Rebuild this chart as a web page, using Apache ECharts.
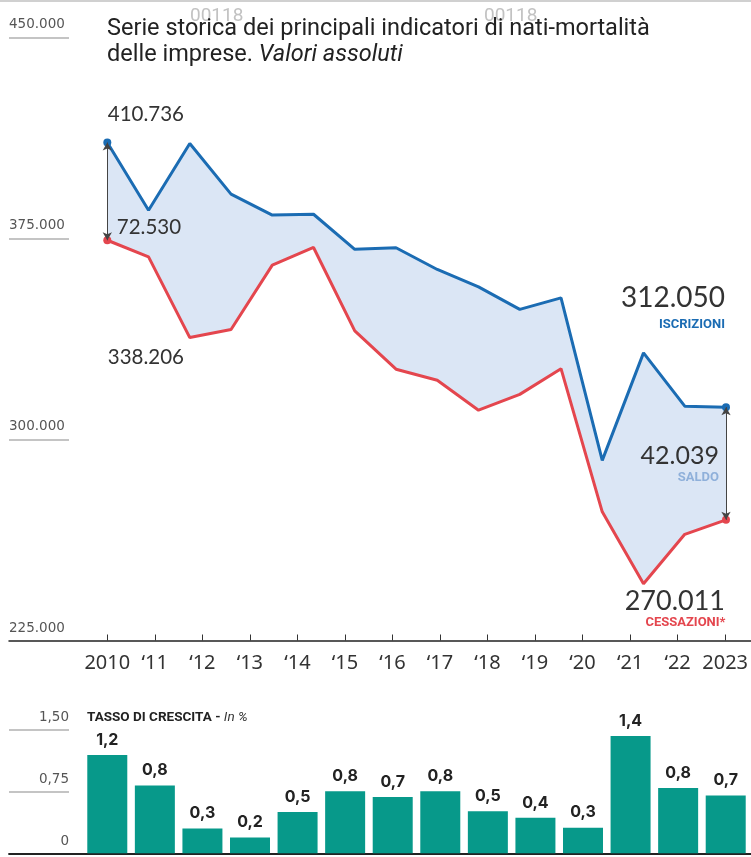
<!DOCTYPE html>
<html>
<head>
<meta charset="utf-8">
<script src="https://cdn.jsdelivr.net/npm/echarts@6/dist/echarts.min.js"></script>
<style>
html,body{margin:0;padding:0;background:#fff;}
#chart{width:751px;height:857px;}
</style>
</head>
<body>
<div id="chart"></div>
<script>
// ---------- data ----------
const years = ['2010','\u201811','\u201812','\u201813','\u201814','\u201815','\u201816','\u201817','\u201818','\u201819','\u201820','\u201821','\u201822','2023'];
const lineSteps = ['1','2','3','4','5','6','7','8','9','10','11','12','13','14','15','16'];
const iscrizioni = [410736, 385500, 410400, 391500, 383700, 384000, 370900, 371500, 363400, 356900, 348500, 352800, 292200, 332300, 312400, 312050];
const cessazioni = [374300, 368100, 338000, 341000, 365000, 371600, 340500, 326200, 322100, 310900, 316800, 326400, 273000, 246200, 264600, 270011];
const yTicks = [225000, 300000, 375000, 450000];
const startLabels = [410736, 72530, 338206];   // iscrizioni, saldo, cessazioni (2010)
const endLabels = [312050, 42039, 270011];     // iscrizioni, saldo, cessazioni (2023)
const tassoCrescita = [1.19, 0.82, 0.30, 0.19, 0.50, 0.75, 0.68, 0.75, 0.51, 0.43, 0.31, 1.42, 0.79, 0.70];
const tassoLabels = ['1,2','0,8','0,3','0,2','0,5','0,8','0,7','0,8','0,5','0,4','0,3','1,4','0,8','0,7'];
const barTicks = [0, 0.75, 1.5];

// ---------- helpers ----------
const fmt = v => String(Math.round(v)).replace(/\B(?=(\d{3})+(?!\d))/g, '.');
const fmtDec = v => v === 0 ? '0' : v.toFixed(2).replace('.', ',');
const gap = iscrizioni.map((v, i) => v - cessazioni[i]);
const last = iscrizioni.length - 1;

const BLUE = '#1b6cb3', RED = '#e4464e', FILL = '#dbe6f5', TEAL = '#07998a';
const TOP = 37.3, BOT1 = 216.5, TOP2 = 729.3, BOT2 = 3.7;

const chart = echarts.init(document.getElementById('chart'), null, {renderer: 'canvas'});

const hiddenVal = (g, extra) => Object.assign({type: 'value', gridIndex: g, show: false}, extra || {});

const option = {
  backgroundColor: '#fff',
  animation: false,
  title: [
    {left: 190, top: 7, padding: 0, text: '00118', textStyle: {fontFamily: 'Roboto', fontSize: 19, fontWeight: 'normal', color: '#c2c2c2'}},
    {left: 484, top: 7, padding: 0, text: '00118', textStyle: {fontFamily: 'Roboto', fontSize: 19, fontWeight: 'normal', color: '#c2c2c2'}},
    {
      left: 107, top: 16, padding: 0,
      text: 'Serie storica dei principali indicatori di nati-mortalità\ndelle imprese. {i|Valori assoluti}',
      textStyle: {
        fontFamily: 'Roboto', fontSize: 23.5, fontWeight: 'normal', color: '#222', lineHeight: 26,
        rich: {i: {fontFamily: 'Roboto', fontSize: 23.5, fontStyle: 'italic', color: '#222', lineHeight: 26}}
      }
    },
    {
      left: 87, top: 710, padding: 0,
      text: 'TASSO DI CRESCITA - {i|In %}',
      textStyle: {
        fontFamily: 'Roboto', fontSize: 13.5, fontWeight: 'bold', color: '#222', lineHeight: 16,
        rich: {i: {fontFamily: 'Roboto', fontSize: 13.5, fontStyle: 'italic', fontWeight: 'normal', color: '#333', lineHeight: 16}}
      }
    }
  ],
  grid: [
    {left: 107.3, right: 25, top: TOP, bottom: BOT1},     // 0 lines
    {left: 83.5, right: 1.5, top: TOP, bottom: BOT1},     // 1 year ticks
    {left: 9, width: 60, top: TOP, bottom: BOT1},         // 2 y labels top
    {left: 9, right: 0, top: TOP, bottom: BOT1},          // 3 top baseline
    {left: 83.5, right: 1.5, top: TOP2, bottom: BOT2},    // 4 bars
    {left: 9, width: 60, top: TOP2, bottom: BOT2},        // 5 y labels bottom
    {left: 9, right: 0, top: TOP2, bottom: BOT2}          // 6 bottom baseline
  ],
  xAxis: [
    {type: 'category', gridIndex: 0, data: lineSteps, boundaryGap: false, show: false},
    {
      type: 'category', gridIndex: 1, data: years, boundaryGap: true,
      axisLine: {show: false},
      axisTick: {show: true, inside: true, alignWithLabel: true, length: 6, lineStyle: {color: '#333', width: 1}},
      axisLabel: {show: true, interval: 0, margin: 13, fontFamily: 'Noto Sans', fontSize: 20, color: '#333'},
      splitLine: {show: false}
    },
    hiddenVal(2, {min: 0, max: 1}),
    {type: 'value', gridIndex: 3, min: 0, max: 1, axisLine: {show: true, lineStyle: {color: '#222', width: 1.5}}, axisTick: {show: false}, axisLabel: {show: false}, splitLine: {show: false}},
    {type: 'category', gridIndex: 4, data: years, boundaryGap: true, show: false},
    hiddenVal(5, {min: 0, max: 1}),
    {type: 'value', gridIndex: 6, min: 0, max: 1, axisLine: {show: true, lineStyle: {color: '#222', width: 1.8}}, axisTick: {show: false}, axisLabel: {show: false}, splitLine: {show: false}}
  ],
  yAxis: [
    hiddenVal(0, {min: yTicks[0], max: yTicks[yTicks.length - 1]}),
    hiddenVal(1, {min: yTicks[0], max: yTicks[yTicks.length - 1]}),
    {
      type: 'value', gridIndex: 2, min: yTicks[0], max: yTicks[yTicks.length - 1], interval: yTicks[1] - yTicks[0],
      axisLine: {show: false}, axisTick: {show: false},
      splitLine: {show: true, showMinLine: false, lineStyle: {color: '#c4c4c4', width: 2}},
      axisLabel: {inside: true, margin: 0, verticalAlign: 'bottom', lineHeight: 25, fontFamily: 'DejaVu Sans', fontSize: 13.5, color: '#555', formatter: fmt}
    },
    hiddenVal(3, {min: 0, max: 1}),
    {type: 'value', gridIndex: 4, min: barTicks[0], max: barTicks[barTicks.length - 1], show: false},
    {
      type: 'value', gridIndex: 5, position: 'right', min: barTicks[0], max: barTicks[barTicks.length - 1], interval: barTicks[1] - barTicks[0],
      axisLine: {show: false}, axisTick: {show: false},
      splitLine: {show: true, showMinLine: false, lineStyle: {color: '#c4c4c4', width: 2}},
      axisLabel: {inside: true, margin: 0, verticalAlign: 'bottom', lineHeight: 23, fontFamily: 'DejaVu Sans', fontSize: 13.5, color: '#555', formatter: fmtDec}
    },
    hiddenVal(6, {min: 0, max: 1})
  ],
  series: [
    {
      name: 'base', type: 'line', xAxisIndex: 0, yAxisIndex: 0, stack: 'fill', data: cessazioni,
      symbol: 'none', lineStyle: {opacity: 0}, silent: true, z: 1
    },
    {
      name: 'saldo', type: 'line', xAxisIndex: 0, yAxisIndex: 0, stack: 'fill', data: gap,
      symbol: 'none', lineStyle: {opacity: 0}, areaStyle: {color: FILL, opacity: 1}, silent: true, z: 1
    },
    {
      name: 'Iscrizioni', type: 'line', xAxisIndex: 0, yAxisIndex: 0, data: iscrizioni,
      showSymbol: true, symbol: 'circle',
      symbolSize: (v, p) => (p.dataIndex === 0 || p.dataIndex === last) ? 8 : 0,
      itemStyle: {color: BLUE}, lineStyle: {color: BLUE, width: 3}, z: 3,
      markLine: {
        silent: true, symbol: ['arrow', 'arrow'], symbolSize: [7, 8],
        label: {show: false},
        lineStyle: {color: '#444', width: 1, type: 'solid'},
        data: [
          [{coord: [0, iscrizioni[0]]}, {coord: [0, cessazioni[0]]}],
          [{coord: [last, iscrizioni[last]]}, {coord: [last, cessazioni[last]]}]
        ]
      }
    },
    {
      name: 'Cessazioni', type: 'line', xAxisIndex: 0, yAxisIndex: 0, data: cessazioni,
      showSymbol: true, symbol: 'circle',
      symbolSize: (v, p) => (p.dataIndex === 0 || p.dataIndex === last) ? 8 : 0,
      itemStyle: {color: RED}, lineStyle: {color: RED, width: 3}, z: 3
    },
    {
      name: 'Tasso di crescita', type: 'bar', xAxisIndex: 4, yAxisIndex: 4, data: tassoCrescita,
      barWidth: 40, itemStyle: {color: TEAL},
      label: {
        show: true, position: 'top', distance: 7,
        formatter: p => tassoLabels[p.dataIndex],
        fontFamily: 'Inter', fontWeight: 'bold', fontSize: 16, color: '#222'
      }
    }
  ],
  graphic: [
    {type: 'rect', left: 0, top: 0, shape: {width: 751, height: 2}, style: {fill: '#d0d0d0'}}
  ]
};

chart.setOption(option);

// ---------- annotations anchored to the data points ----------
const px = (i, v) => chart.convertToPixel({gridIndex: 0}, [i, v]);
const b0 = px(0, iscrizioni[0]), r0 = px(0, cessazioni[0]);
const bL = px(last, iscrizioni[last]), rL = px(last, cessazioni[last]);
const midL = (bL[1] + rL[1]) / 2;

function txt(text, x, y, font, fill, align) {
  return {
    type: 'text', z: 10,
    style: {text: text, x: x, y: y, font: font, fill: fill,
      align: align, verticalAlign: 'middle', textAlign: align, textVerticalAlign: 'middle'}
  };
}
const NUM = 'Lato';
chart.setOption({
  graphic: [
    {type: 'rect', left: 0, top: 0, shape: {width: 751, height: 2}, style: {fill: '#d0d0d0'}},
    txt(fmt(startLabels[0]), b0[0] + 0.5, b0[1] - 28, '20.5px ' + NUM, '#333', 'left'),
    txt(fmt(startLabels[1]), r0[0] + 9.5, r0[1] - 12.5, '20.5px ' + NUM, '#333', 'left'),
    txt(fmt(startLabels[2]), r0[0] + 0.5, r0[1] + 117.5, '20.5px ' + NUM, '#333', 'left'),
    txt(fmt(endLabels[0]), bL[0] - 1, bL[1] - 109, '28px ' + NUM, '#333', 'right'),
    txt('ISCRIZIONI', bL[0] - 1, bL[1] - 82, 'bold 13px Roboto', BLUE, 'right'),
    txt(fmt(endLabels[1]), bL[0] - 7, midL - 8, '25px ' + NUM, '#333', 'right'),
    txt('SALDO', bL[0] - 7, midL + 14.5, 'bold 13px Roboto', '#8fb0da', 'right'),
    txt(fmt(endLabels[2]), rL[0] - 1, rL[1] + 81, '27px ' + NUM, '#333', 'right'),
    txt('CESSAZIONI*', rL[0] - 0.5, rL[1] + 102.5, 'bold 13px Roboto', RED, 'right')
  ]
});
</script>
</body>
</html>
